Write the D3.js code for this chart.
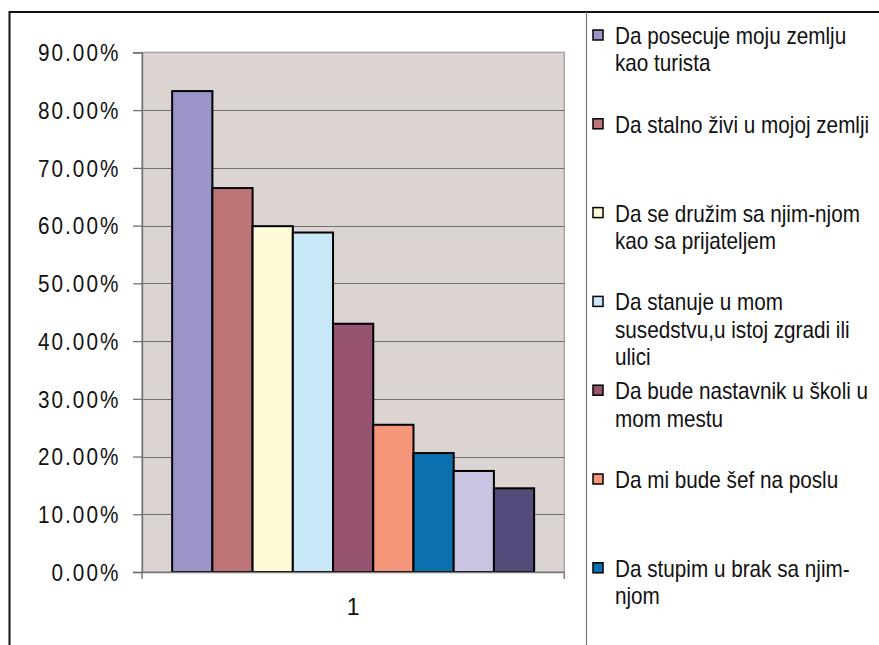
<!DOCTYPE html>
<html>
<head>
<meta charset="utf-8">
<script src="https://cdn.jsdelivr.net/npm/d3@7"></script>
<style>
  html, body { margin: 0; padding: 0; background: #fff; }
  svg { display: block; font-family: "Liberation Sans", Arial, sans-serif; }
</style>
</head>
<body>
<svg id="chart" width="879" height="645"></svg>
<script>
// ---- data ----
const categories = ["1"];
const seriesValues = [0.833, 0.665, 0.599, 0.588, 0.430, 0.255, 0.206, 0.175, 0.145];
const seriesColors = ["#9B95C9", "#BE7577", "#FFFAD8", "#C8E8F8", "#955370", "#F5977A", "#0B70AD", "#C8C4E2", "#544C7B"];
const legendLabels = [
  ["Da posecuje moju zemlju", "kao turista"],
  ["Da stalno živi u mojoj zemlji"],
  ["Da se družim sa njim-njom", "kao sa prijateljem"],
  ["Da stanuje u mom", "susedstvu,u istoj zgradi ili", "ulici"],
  ["Da bude nastavnik u školi u", "mom mestu"],
  ["Da mi bude šef na poslu"],
  ["Da stupim u brak sa njim-", "njom"]
];
const yTicks = [0, 0.1, 0.2, 0.3, 0.4, 0.5, 0.6, 0.7, 0.8, 0.9];
const yTickLabels = ["0.00%", "10.00%", "20.00%", "30.00%", "40.00%", "50.00%", "60.00%", "70.00%", "80.00%", "90.00%"];

// ---- layout ----
const svg = d3.select("#chart");
const plot = { left: 142, right: 564.3, top: 52.4, bottom: 572 };
const sx = 0.9; // horizontal squeeze of text (reference glyphs are taller than wide)

// outer frame
svg.append("rect").attr("x", 9.5).attr("y", 12).attr("width", 1000).attr("height", 1000)
  .attr("fill", "#fff").attr("stroke", "#111").attr("stroke-width", 2);
// legend separator
svg.append("line").attr("x1", 586.5).attr("x2", 586.5).attr("y1", 12).attr("y2", 645)
  .attr("stroke", "#7a7a7a").attr("stroke-width", 1.2);

const y = d3.scaleLinear().domain([0, 0.9]).range([plot.bottom, plot.top]);
const x0 = d3.scaleBand().domain(categories).range([plot.left, plot.right]);
const gap = x0.bandwidth() * 0.75 / (seriesValues.length + 1.5);
const x1 = d3.scaleBand().domain(d3.range(seriesValues.length))
  .range([gap, x0.bandwidth() - gap]);

// plot area background
svg.append("rect").attr("x", plot.left).attr("y", plot.top)
  .attr("width", plot.right - plot.left).attr("height", plot.bottom - plot.top)
  .attr("fill", "#DCD4D2").attr("stroke", "#ABA6A5").attr("stroke-width", 1.5);

// gridlines
svg.append("g").selectAll("line").data(yTicks.filter(t => t > 0 && t < 0.9)).join("line")
  .attr("x1", plot.left).attr("x2", plot.right)
  .attr("y1", d => Math.round(y(d)) + 0.5).attr("y2", d => Math.round(y(d)) + 0.5)
  .attr("stroke", "#6f6f6f").attr("stroke-width", 1);

// y axis
const yAxis = d3.axisLeft(y).tickValues(yTicks).tickSize(9).tickPadding(0)
  .tickFormat((d, i) => yTickLabels[i]);
const gy = svg.append("g").attr("transform", `translate(${plot.left},0)`).call(yAxis);
gy.select(".domain").attr("stroke", "#7a7a7a").attr("stroke-width", 1.5);
gy.selectAll(".tick line").attr("stroke", "#6a6a6a").attr("stroke-width", 1.2);
gy.selectAll(".tick text")
  .attr("transform", `scale(${sx},1)`)
  .attr("x", -21.5 / sx)
  .attr("dy", "0.36em")
  .attr("fill", "#111")
  .style("font-size", "23px")
  .style("letter-spacing", "2.3px")
  .style("font-family", "'Liberation Sans', Arial, sans-serif");

// bars
svg.append("g").selectAll("rect").data(seriesValues).join("rect")
  .attr("x", (d, i) => x0(categories[0]) + x1(i))
  .attr("y", d => y(d))
  .attr("width", x1.bandwidth())
  .attr("height", d => plot.bottom - y(d))
  .attr("fill", (d, i) => seriesColors[i])
  .attr("stroke", "#000").attr("stroke-width", 2);

// x axis
const xAxis = d3.axisBottom(x0).tickSize(0).tickPadding(0);
const gx = svg.append("g").attr("transform", `translate(0,${plot.bottom})`).call(xAxis);
gx.select(".domain").attr("stroke", "#7a7a7a").attr("stroke-width", 1.5);
gx.selectAll(".tick text").attr("dy", 0).attr("y", 43)
  .attr("fill", "#111").style("font-size", "23px")
  .style("font-family", "'Liberation Sans', Arial, sans-serif");
svg.append("g").selectAll("line").data(x0.range()).join("line")
  .attr("x1", d => d).attr("x2", d => d)
  .attr("y1", plot.bottom).attr("y2", plot.bottom + 7)
  .attr("stroke", "#7a7a7a").attr("stroke-width", 1.5);

// legend
const leg = svg.append("g");
const legItems = leg.selectAll("g").data(legendLabels).join("g")
  .attr("transform", (d, i) => `translate(593,${44 + i * 88.8})`);
legItems.append("rect")
  .attr("x", 0).attr("y", -14).attr("width", 10).attr("height", 10)
  .attr("fill", (d, i) => seriesColors[i])
  .attr("stroke", "#000").attr("stroke-width", 1.5);
legItems.append("text")
  .attr("transform", `scale(${sx},1)`)
  .attr("x", 22 / sx).attr("y", 0)
  .attr("fill", "#111").style("font-size", "23px")
  .selectAll("tspan").data(d => d).join("tspan")
  .attr("x", 22 / sx).attr("dy", (d, i) => i === 0 ? 0 : 27.5)
  .text(d => d);
</script>
</body>
</html>
